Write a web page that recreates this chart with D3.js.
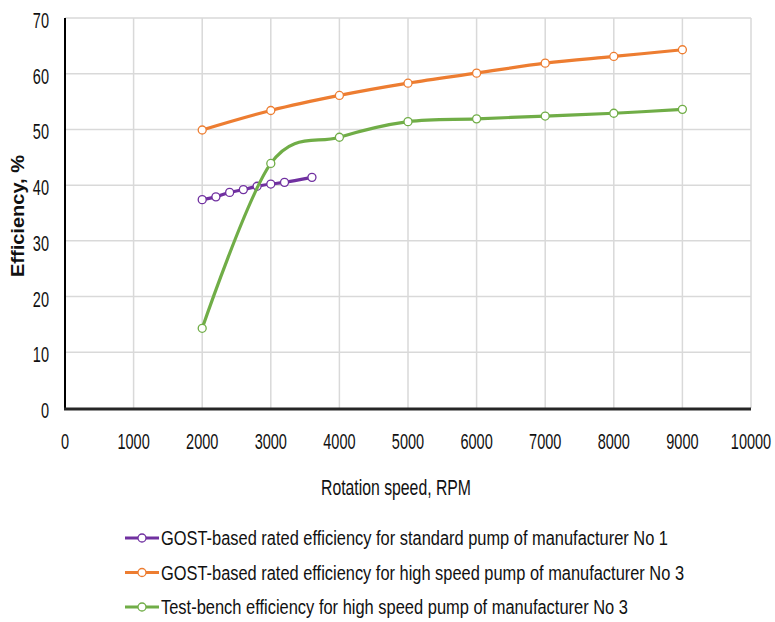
<!DOCTYPE html>
<html><head><meta charset="utf-8">
<script src="https://cdn.jsdelivr.net/npm/d3@7"></script>
<style>
body{margin:0;background:#fff;}
text{font-family:"Liberation Sans","Arial",sans-serif;fill:#111;}
</style></head>
<body><svg id="chart" width="775" height="622"></svg>
<script>
const xTicks = [0,1000,2000,3000,4000,5000,6000,7000,8000,9000,10000];
const yTicks = [0,10,20,30,40,50,60,70];
const seriesNames = [
  "GOST-based rated efficiency for standard pump of manufacturer No 1",
  "GOST-based rated efficiency for high speed pump of manufacturer No 3",
  "Test-bench efficiency for high speed pump of manufacturer No 3"
];
const seriesColors = ["#7030A0","#ED7D31","#70AD47"];
const rpm1 = [2000,2200,2400,2600,2800,3000,3200,3600];
const eff1 = [37.4,37.9,38.7,39.2,39.8,40.2,40.5,41.4];
const rpm2 = [2000,3000,4000,5000,6000,7000,8000,9000];
const eff2 = [49.9,53.4,56.1,58.3,60.1,61.9,63.1,64.3];
const rpm3 = [2000,3000,4000,5000,6000,7000,8000,9000];
const eff3 = [14.3,43.9,48.6,51.4,51.9,52.4,52.9,53.6];

const series = [
  {name:seriesNames[0], color:seriesColors[0], pts:rpm1.map((x,i)=>[x,eff1[i]])},
  {name:seriesNames[1], color:seriesColors[1], pts:rpm2.map((x,i)=>[x,eff2[i]])},
  {name:seriesNames[2], color:seriesColors[2], pts:rpm3.map((x,i)=>[x,eff3[i]])}
];

const svg = d3.select("#chart");
const x = d3.scaleLinear().domain([0,10000]).range([65,751]);
const y = d3.scaleLinear().domain([0,70]).range([408,18]);

const grid = svg.append("g");
grid.selectAll("line.v").data(xTicks.slice(1)).join("line")
  .attr("x1",d=>x(d)).attr("x2",d=>x(d)).attr("y1",y(70)).attr("y2",y(0))
  .attr("stroke","#d9d9d9").attr("stroke-width",1.5);
grid.selectAll("line.h").data(yTicks.slice(1)).join("line")
  .attr("x1",x(0)).attr("x2",x(10000)).attr("y1",d=>y(d)).attr("y2",d=>y(d))
  .attr("stroke","#d9d9d9").attr("stroke-width",1.5);

// axes
svg.append("line").attr("x1",x(0)).attr("x2",x(0)).attr("y1",y(70)).attr("y2",y(0)+1)
  .attr("stroke","#000").attr("stroke-width",2);
svg.append("line").attr("x1",x(0)-1).attr("x2",x(10000)).attr("y1",y(0)+1).attr("y2",y(0)+1)
  .attr("stroke","#262626").attr("stroke-width",3);

const SX = 0.66;
svg.append("g").selectAll("text").data(yTicks).join("text")
  .attr("transform",d=>`translate(49,${y(d)+2}) scale(${SX},1)`)
  .attr("dy","0.36em").attr("text-anchor","end")
  .attr("font-size",22).text(d=>d);
svg.append("g").selectAll("text").data(xTicks).join("text")
  .attr("transform",d=>`translate(${x(d)},441) scale(${SX},1)`)
  .attr("dy","0.36em").attr("text-anchor","middle")
  .attr("font-size",22).text(d=>d);

svg.append("text").attr("x",321).attr("y",487).attr("dy","0.36em")
  .attr("font-size",22).attr("textLength",150).attr("lengthAdjust","spacingAndGlyphs")
  .text("Rotation speed, RPM");
svg.append("text").attr("transform","translate(18,277) rotate(-90)").attr("dy","0.36em")
  .attr("font-size",18).attr("font-weight","bold")
  .attr("textLength",122).attr("lengthAdjust","spacingAndGlyphs").text("Efficiency, %");

const line = d3.line().x(d=>x(d[0])).y(d=>y(d[1])).curve(d3.curveCardinal.tension(0));
const sg = svg.append("g").selectAll("g").data(series).join("g");
sg.append("path").attr("d",d=>line(d.pts)).attr("fill","none")
  .attr("stroke",d=>d.color).attr("stroke-width",3.2).attr("stroke-linecap","round");
sg.each(function(s){
  d3.select(this).selectAll("circle").data(s.pts).join("circle")
    .attr("cx",d=>x(d[0])).attr("cy",d=>y(d[1])).attr("r",4)
    .attr("fill","#fff").attr("stroke",s.color).attr("stroke-width",1.3);
});

// legend
const legendLen = [507, 523, 467];
const lg = svg.append("g").selectAll("g").data(series).join("g")
  .attr("transform",(d,i)=>`translate(0,${538+i*34.5})`);
lg.append("line").attr("x1",125).attr("x2",159).attr("y1",0).attr("y2",0)
  .attr("stroke",d=>d.color).attr("stroke-width",3.2);
lg.append("circle").attr("cx",142).attr("cy",0).attr("r",4)
  .attr("fill","#fff").attr("stroke",d=>d.color).attr("stroke-width",1.3);
lg.append("text").attr("x",161).attr("y",0).attr("dy","0.36em").attr("font-size",19.5)
  .attr("textLength",(d,i)=>legendLen[i]).attr("lengthAdjust","spacingAndGlyphs")
  .text(d=>d.name);
</script></body></html>
